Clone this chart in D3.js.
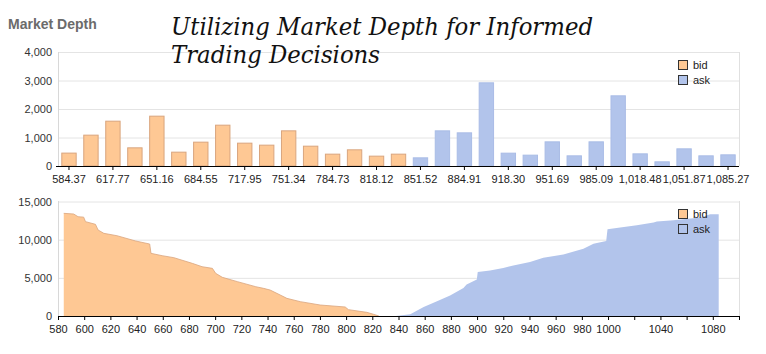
<!DOCTYPE html>
<html>
<head>
<meta charset="utf-8">
<script src="https://cdn.jsdelivr.net/npm/d3@7"></script>
<style>
  body { margin: 0; background: #fff; }
  svg { display: block; font-family: "Liberation Sans", Arial, sans-serif; }
</style>
</head>
<body>
<svg id="chart" width="766" height="354"></svg>
<script>
// bar chart: every other bin gets a label
const binLabels = ["584.37", "617.77", "651.16", "684.55", "717.95", "751.34", "784.73", "818.12",
                   "851.52", "884.91", "918.30", "951.69", "985.09", "1,018.48", "1,051.87", "1,085.27"];
const bidBars = [470, 1100, 1590, 655, 1766, 503, 854, 1450, 819, 749, 1251, 713, 433, 585, 363, 433];
const askBars = [304, 1251, 1181, 2936, 468, 398, 865, 374, 865, 2480, 444, 164, 620, 374, 409];

// cumulative depth curves [price, volume]
const bidCurve = [[584.4, 13450], [592, 13360], [595.3, 13010], [599.6, 12950], [601, 12360],
  [608.6, 12010], [610.6, 11270], [615, 10830], [625, 10520], [639.2, 9830], [650, 9430],
  [651, 8210], [659.6, 7900], [668.5, 7640], [682.5, 6900], [690, 6460], [697.9, 6240],
  [700.4, 5590], [705.5, 5065], [717, 4500], [731, 3840], [737, 3620], [742, 3400],
  [749.7, 2750], [754.8, 2310], [765, 1880], [780.2, 1440], [799.3, 1180], [801.8, 830],
  [815.8, 480], [821, 220], [825, 0]];
const askCurve = [[838, 0], [849, 220], [859.2, 1180], [869.4, 1930], [879.4, 2680],
  [889.6, 3680], [892, 4120], [899.8, 4780], [900.5, 5750], [909.9, 5960], [920, 6300],
  [927.7, 6620], [940.4, 7060], [950.6, 7630], [965.9, 8070], [981.2, 8820], [988.9, 9470],
  [998.6, 9820], [999.6, 11360], [1009.3, 11580], [1022, 11890], [1034.8, 12240],
  [1037.3, 12370], [1050, 12540], [1070.5, 12900], [1078, 13330], [1084.5, 13330]];

const topTicks = [0, 1000, 2000, 3000, 4000];
const bottomTicks = [0, 5000, 10000, 15000];
const priceTicks = d3.range(580, 1101, 20);
const priceLabels = priceTicks.map(v => (v <= 1000 || v === 1040 || v === 1080) ? String(v) : "");

const bidFill = "#fec894", bidStroke = "#d9a57e";
const askFill = "#b2c4eb", askStroke = "#a9bce6";

const svg = d3.select("#chart");
const left = 58, right = 739;

svg.append("text").attr("x", 8).attr("y", 29)
  .attr("font-size", 14).attr("font-weight", "bold").attr("fill", "#6b6b6b")
  .text("Market Depth");

// ---- top: depth per bin ----
const bars = bidBars.map(v => ({v, side: "bid"})).concat(askBars.map(v => ({v, side: "ask"})));
const xBand = d3.scaleBand().domain(d3.range(bars.length)).range([left, right]).paddingInner(0.3).paddingOuter(0.15);
const yTop = d3.scaleLinear().domain([0, 4000]).range([166, 52]);

const topG = svg.append("g");
topG.selectAll(".grid").data(topTicks).enter().append("line")
  .attr("x1", left).attr("x2", right)
  .attr("y1", d => yTop(d) + 0.5).attr("y2", d => yTop(d) + 0.5)
  .attr("stroke", "#e4e4e4");
topG.append("line").attr("x1", left + 0.5).attr("x2", left + 0.5).attr("y1", 52).attr("y2", 166).attr("stroke", "#d8d8d8");
topG.append("line").attr("x1", right + 0.5).attr("x2", right + 0.5).attr("y1", 52).attr("y2", 166).attr("stroke", "#e0e0e0");

topG.selectAll(".bar").data(bars).enter().append("rect")
  .attr("x", (d, i) => xBand(i) + 0.5)
  .attr("y", d => yTop(d.v) + 0.5)
  .attr("width", xBand.bandwidth() - 1)
  .attr("height", d => yTop(0) - yTop(d.v) - 0.5)
  .attr("fill", d => d.side === "bid" ? bidFill : askFill)
  .attr("stroke", d => d.side === "bid" ? bidStroke : askStroke);

const xTopAxis = d3.axisBottom(xBand)
  .tickValues(d3.range(0, bars.length, 2))
  .tickFormat(i => binLabels[i / 2])
  .tickSize(4).tickSizeOuter(0);
topG.append("g").attr("transform", "translate(0,166)").call(xTopAxis)
  .call(g => g.select(".domain").attr("d", `M${left - 2},0.5H${right}`).attr("stroke", "#000"))
  .call(g => g.selectAll("text").attr("font-size", 11).attr("fill", "#222").attr("dy", "0.9em").attr("font-family", null));

topG.append("g").attr("transform", `translate(${left},0)`)
  .call(d3.axisLeft(yTop).tickValues(topTicks).tickFormat(d3.format(",")).tickSize(0))
  .call(g => g.select(".domain").remove())
  .call(g => g.selectAll("text").attr("x", -6).attr("font-size", 11).attr("fill", "#333").attr("font-family", null));

// ---- bottom: cumulative depth ----
const xPrice = d3.scaleLinear().domain([580, 1100]).range([left, right]);
const yBot = d3.scaleLinear().domain([0, 15000]).range([316, 201.5]);

const botG = svg.append("g");
botG.selectAll(".grid").data(bottomTicks).enter().append("line")
  .attr("x1", left).attr("x2", right)
  .attr("y1", d => yBot(d) + 0.5).attr("y2", d => yBot(d) + 0.5)
  .attr("stroke", "#e4e4e4");
botG.append("line").attr("x1", left + 0.5).attr("x2", left + 0.5).attr("y1", 201).attr("y2", 316).attr("stroke", "#d8d8d8");
botG.append("line").attr("x1", right + 0.5).attr("x2", right + 0.5).attr("y1", 201).attr("y2", 316).attr("stroke", "#e0e0e0");

const area = d3.area().x(d => xPrice(d[0])).y0(yBot(0)).y1(d => yBot(d[1]));
const topLine = d3.line().x(d => xPrice(d[0])).y(d => yBot(d[1]));
botG.append("path").datum(bidCurve).attr("d", area).attr("fill", bidFill);
botG.append("path").datum(bidCurve).attr("d", topLine).attr("fill", "none").attr("stroke", bidStroke).attr("stroke-width", 0.8);
botG.append("path").datum(askCurve).attr("d", area).attr("fill", askFill);

botG.append("g").attr("transform", "translate(0,316)")
  .call(d3.axisBottom(xPrice).tickValues(priceTicks).tickFormat((d, i) => priceLabels[i]).tickSize(4).tickSizeOuter(0))
  .call(g => g.select(".domain").attr("stroke", "#000"))
  .call(g => g.selectAll(".tick line").attr("stroke", "#000"))
  .call(g => g.selectAll("text").attr("font-size", 11).attr("fill", "#222").attr("dy", "0.9em").attr("font-family", null));

botG.append("g").attr("transform", `translate(${left},0)`)
  .call(d3.axisLeft(yBot).tickValues(bottomTicks).tickFormat(d3.format(",")).tickSize(0))
  .call(g => g.select(".domain").remove())
  .call(g => g.selectAll("text").attr("x", -6).attr("font-size", 11).attr("fill", "#333").attr("font-family", null));

// legends
const legendItems = [{name: "bid", fill: bidFill}, {name: "ask", fill: askFill}];
[60, 209].forEach(y0 => {
  const lg = svg.append("g").attr("transform", `translate(678,${y0})`);
  legendItems.forEach((it, i) => {
    lg.append("rect").attr("x", 0.5).attr("y", i * 15 + 0.5).attr("width", 9).attr("height", 9)
      .attr("fill", it.fill).attr("stroke", "#333");
    lg.append("text").attr("x", 15).attr("y", i * 15 + 9).attr("font-size", 11).attr("fill", "#222").text(it.name);
  });
});

// handwritten-style title overlay
const script = svg.append("g").attr("font-family", "'DejaVu Serif', serif").attr("font-style", "italic").attr("fill", "#111");
script.append("text").attr("x", 171).attr("y", 35).attr("font-size", 24)
  .attr("textLength", 422).attr("lengthAdjust", "spacingAndGlyphs")
  .text("Utilizing Market Depth for Informed");
script.append("text").attr("x", 171).attr("y", 63).attr("font-size", 24)
  .attr("textLength", 209).attr("lengthAdjust", "spacingAndGlyphs")
  .text("Trading Decisions");
</script>
</body>
</html>
